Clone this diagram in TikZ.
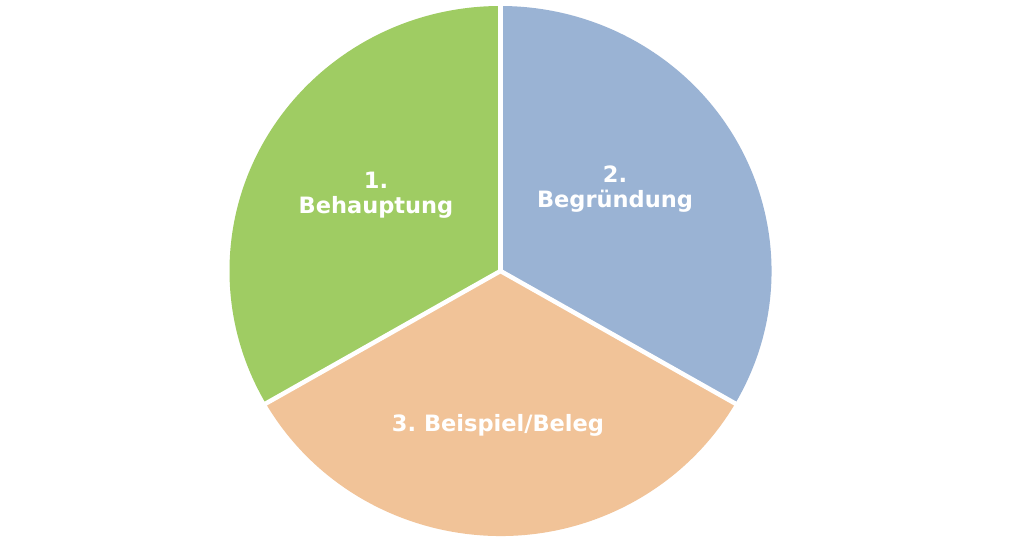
\documentclass[tikz,border=0pt]{standalone}
\usepackage{fontspec}
\setmainfont{DejaVu Sans}
\usetikzlibrary{calc}
\frenchspacing
\definecolor{slicegreen}{RGB}{159,204,99}
\definecolor{sliceblue}{RGB}{154,179,212}
\definecolor{sliceorange}{RGB}{241,195,152}
\tikzset{
  sep/.style={draw=white,line width=4.5pt},
  lbl/.style={text=white,font=\bfseries\fontsize{22.5}{25}\selectfont,align=center,inner sep=0pt}
}
\begin{document}
\begin{tikzpicture}[x=1pt,y=1pt]
\useasboundingbox[fill=white] (0,0) rectangle (1024,538);
\clip (0,0) rectangle (1024,538);
\coordinate (c) at (500.5,267);
\def\ax{271}\def\by{265}
\fill[slicegreen] (c) -- ++(90:\by) arc[start angle=90,end angle=210,x radius=\ax,y radius=\by] -- cycle;
\fill[sliceorange] (c) -- ($(c)+({\ax*cos(210)},{\by*sin(210)})$) arc[start angle=210,end angle=330,x radius=\ax,y radius=\by] -- cycle;
\fill[sliceblue] (c) -- ($(c)+({\ax*cos(330)},{\by*sin(330)})$) arc[start angle=-30,end angle=90,x radius=\ax,y radius=\by] -- cycle;
\coordinate (t) at ($(c)+(0,\by+2)$);
\coordinate (l) at ($(c)+({(\ax+2)*cos(210)},{(\by+2)*sin(210)})$);
\coordinate (r) at ($(c)+({(\ax+2)*cos(330)},{(\by+2)*sin(330)})$);
\draw[sep] (c) -- (t);
\draw[sep] (c) -- (l);
\draw[sep] (c) -- (r);
\node[lbl] (s1) at (376,343) {1.\\Behauptung};
\node[lbl] (s2) at (615,349) {2.\\Begründung};
\node[lbl] (s3) at (498,113) {3. Beispiel/Beleg};
\end{tikzpicture}
\end{document}
